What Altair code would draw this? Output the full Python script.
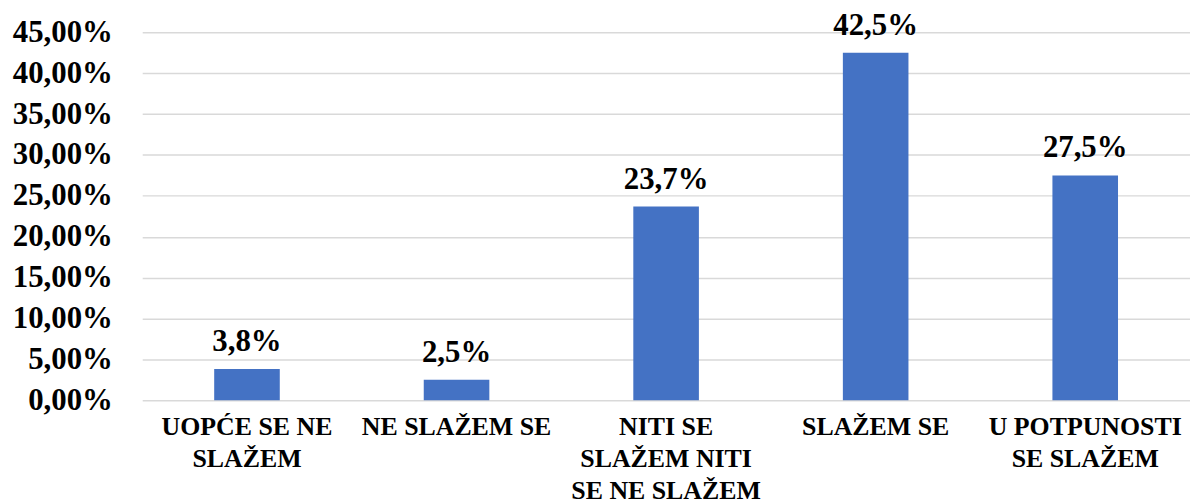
import altair as alt
import pandas as pd

categories = [
    "UOPĆE SE NE\nSLAŽEM",
    "NE SLAŽEM SE",
    "NITI SE\nSLAŽEM NITI\nSE NE SLAŽEM",
    "SLAŽEM SE",
    "U POTPUNOSTI\nSE SLAŽEM",
]
values = [0.038, 0.025, 0.237, 0.425, 0.275]
value_labels = ["3,8%", "2,5%", "23,7%", "42,5%", "27,5%"]
y_ticks = [0, 0.05, 0.1, 0.15, 0.2, 0.25, 0.3, 0.35, 0.4, 0.45]

df = pd.DataFrame({"cat": categories, "val": values, "lab": value_labels})

FONT = "Liberation Serif"
W, H = 1054, 370

base = alt.Chart(df).encode(
    x=alt.X(
        "cat:N",
        sort=categories,
        title=None,
        scale=alt.Scale(paddingInner=0.687, paddingOuter=0.3435),
        axis=None,
    ),
)

bars = base.mark_bar(color="#4472C4").encode(
    y=alt.Y(
        "val:Q",
        title=None,
        scale=alt.Scale(domain=[0, 0.45], nice=False),
        axis=alt.Axis(
            values=y_ticks,
            labelExpr="replace(format(datum.value, '.2%'), '.', ',')",
            labelFont=FONT,
            labelFontWeight="bold",
            labelFontSize=31,
            labelColor="black",
            labelPadding=30,
            ticks=False,
            domain=False,
            gridColor="#d9d9d9",
            gridWidth=1.5,
        ),
    )
)

text = base.mark_text(
    font=FONT, fontWeight="bold", fontSize=31, color="black",
    baseline="alphabetic", dy=-18,
).encode(y="val:Q", text="lab:N")

xlabels = base.mark_text(
    font=FONT, fontWeight="bold", fontSize=26, color="black",
    baseline="top", align="center", lineBreak="\n", lineHeight=32,
).encode(y=alt.value(H + 14), text="cat:N")

chart = (bars + text + xlabels).properties(
    width=W, height=H,
    autosize=alt.AutoSizeParams(type="none"),
    padding={"left": 135, "top": 23, "right": 0, "bottom": 110},
).configure(font=FONT).configure_view(stroke=None)

chart.save("out.html", embed_options={"renderer": "svg", "actions": False})
